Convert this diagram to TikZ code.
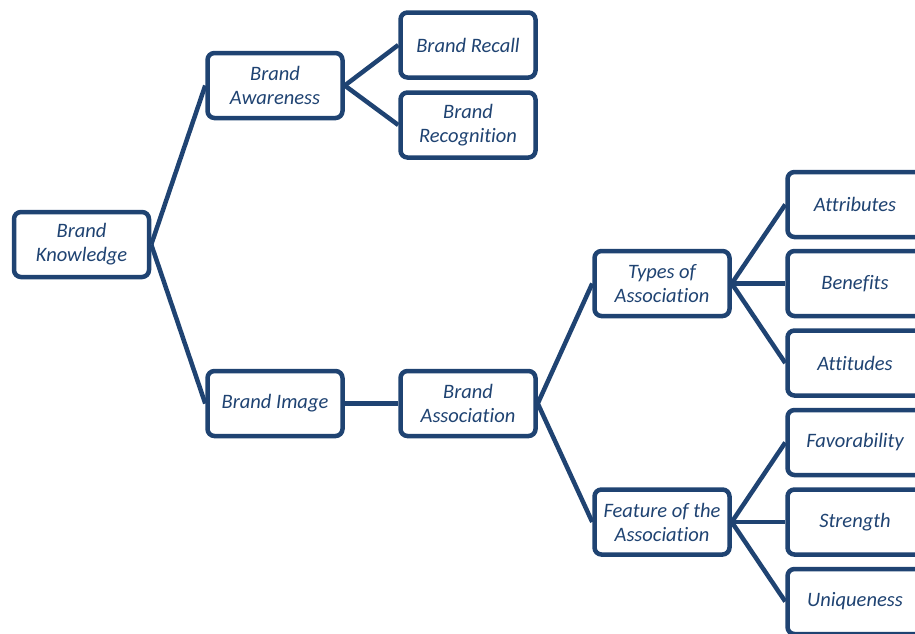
\documentclass[tikz,border=0pt]{standalone}
\usepackage{fontspec}
\setmainfont{Carlito}[Ligatures={NoCommon}]
\definecolor{bblue}{HTML}{1F4372}
\tikzset{
  bbox/.style={draw=bblue, line width=4.5pt, rounded corners=7pt, fill=white,
    minimum width=135pt, minimum height=65pt, inner sep=2pt, align=center,
    text=bblue, font=\fontsize{20.5}{24}\selectfont\itshape},
  link/.style={draw=bblue, line width=4.5pt}
}
\begin{document}
\begin{tikzpicture}[x=1pt,y=-1pt]
\useasboundingbox (0,0) rectangle (915,633);
\clip (0,0) rectangle (915,633);
\node[bbox] (bk) at (81.5,244.5) {Brand\\Knowledge};
\node[bbox] (ba) at (275,85.5) {Brand\\Awareness};
\node[bbox] (brc) at (468,45) {Brand Recall};
\node[bbox] (brg) at (468,125) {Brand\\Recognition};
\node[bbox] (bi) at (275,403.5) {Brand Image};
\node[bbox] (bas) at (468,403.5) {Brand\\Association};
\node[bbox] (toa) at (662,283.5) {Types of\\Association};
\node[bbox] (fta) at (662,522) {Feature of the\\Association};
\node[bbox] (att) at (855,204.5) {Attributes};
\node[bbox] (ben) at (855,283.5) {Benefits};
\node[bbox] (atd) at (855,363) {Attitudes};
\node[bbox] (fav) at (855,442.5) {Favorability};
\node[bbox] (str) at (855,522) {Strength};
\node[bbox] (uni) at (855,601.5) {Uniqueness};
\draw[link] (bk.east) -- (ba.west);
\draw[link] (bk.east) -- (bi.west);
\draw[link] (ba.east) -- (brc.west);
\draw[link] (ba.east) -- (brg.west);
\draw[link] (bi.east) -- (bas.west);
\draw[link] (bas.east) -- (toa.west);
\draw[link] (bas.east) -- (fta.west);
\draw[link] (toa.east) -- (att.west);
\draw[link] (toa.east) -- (ben.west);
\draw[link] (toa.east) -- (atd.west);
\draw[link] (fta.east) -- (fav.west);
\draw[link] (fta.east) -- (str.west);
\draw[link] (fta.east) -- (uni.west);
\end{tikzpicture}
\end{document}
